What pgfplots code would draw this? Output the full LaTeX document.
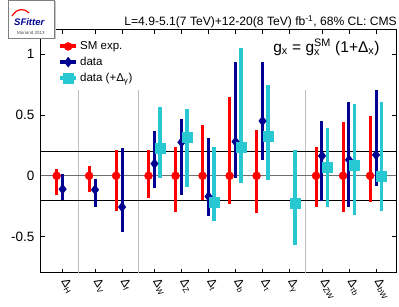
\documentclass[border=0pt]{standalone}
\usepackage{pgfplots}
\usepackage{pgfplotstable}
\pgfplotsset{compat=1.18}
\usepackage{amsmath}
\usepackage{fontspec}
\setmainfont{Liberation Sans}
\definecolor{smred}{RGB}{255,0,0}
\definecolor{datablue}{RGB}{0,0,145}
\definecolor{datacyan}{RGB}{40,200,210}
\definecolor{sepgray}{RGB}{190,190,190}
\definecolor{zerogray}{RGB}{110,110,110}

% x = category position, y = central value, ep / em = error up / down
\pgfplotstableread{
x     y      ep     em
-0.22 0      0.055  0.156
0.98  0      0.08   0.13
1.98  0      0.213  0.287
3.18  0      0.213  0.183
4.18  0      0.235  0.300
5.18  0      0.418  0.197
6.18  0      0.650  0.230
7.18  0      0.377  0.306
9.38  0      0.235  0.260
10.38 0      0.440  0.300
11.38 0      0.490  0.216
}\smexp
\pgfplotstableread{
x     y      ep     em
0     -0.110 0.126  0.087
1.2   -0.115 0.090  0.142
2.2   -0.257 0.484  0.203
3.4   0.100  0.265  0.200
4.4   0.276  0.191  0.432
5.4   -0.170 0.479  0.163
6.4   0.281  0.656  0.300
7.4   0.451  0.486  0.320
9.6   0.164  0.291  0.369
10.6  0.131  0.478  0.391
11.6  0.172  0.538  0.254
}\data
\pgfplotstableread{
x     y      ep     em
3.6   0.230  0.340  0.249
4.6   0.314  0.236  0.404
5.6   -0.219 0.459  0.155
6.6   0.232  0.823  0.292
7.6   0.330  0.416  0.363
8.6   -0.224 0.437  0.342
9.8   0.068  0.322  0.325
10.8  0.085  0.505  0.410
11.8  0.000  0.609  0.293
}\datagamma

\begin{document}
\begin{tikzpicture}
\begin{axis}[
  width=355pt, height=243pt, scale only axis,
  xmin=-0.8, xmax=12.34, ymin=-0.8, ymax=1.2,
  axis line style={line width=1pt},
  tick align=inside, major tick length=4pt,
  tick style={black, line width=0.8pt},
  xtick={0,1.2,2.2,3.4,4.4,5.4,6.4,7.4,8.4,9.6,10.6,11.6},
  xticklabels={Δ\textsubscript{H},Δ\textsubscript{V},Δ\textsubscript{f},Δ\textsubscript{W},Δ\textsubscript{Z},Δ\textsubscript{t},Δ\textsubscript{b},Δ\textsubscript{τ},Δ\textsubscript{γ},Δ\textsubscript{ZW},Δ\textsubscript{τb},Δ\textsubscript{bW}},
  xticklabel style={xshift=6pt, yshift=-3pt, rotate=-60, anchor=north west, font=\fontsize{12}{13}\selectfont, inner sep=1pt},
  ytick={-0.5,0,0.5,1}, yticklabels={-0.5,0,0.5,1},
  yticklabel style={font=\fontsize{13.5}{15}\selectfont, xshift=-3pt},
  legend style={at={(0.045,0.965)}, anchor=north west, draw=none, fill=white,
    font=\fontsize{11.5}{13}\selectfont, row sep=2pt, inner sep=1pt},
  legend cell align=left,
  legend image code/.code={
    \draw[#1, line width=4pt, mark=none] (0pt,0pt) -- (16pt,0pt);
    \draw[#1] plot coordinates {(8pt,0pt)};},
  error bars/error mark=none,
]
% reference lines
\addplot[sepgray, line width=1pt, forget plot] coordinates {(0.6,-0.8) (0.6,0.705)};
\addplot[sepgray, line width=1pt, forget plot] coordinates {(2.8,-0.8) (2.8,0.705)};
\addplot[sepgray, line width=1pt, forget plot] coordinates {(9.0,-0.8) (9.0,0.705)};
\addplot[black, line width=0.8pt, forget plot] coordinates {(-0.8,0.2) (12.34,0.2)};
\addplot[black, line width=0.8pt, forget plot] coordinates {(-0.8,-0.2) (12.34,-0.2)};
\addplot[zerogray, line width=0.8pt, forget plot] coordinates {(-0.8,0) (12.34,0)};

\addplot[smred, only marks, mark=*, mark size=4pt, mark options={fill=smred, draw=smred},
  error bars/.cd, y dir=both, y explicit, error bar style={line width=3pt, smred}]
  table[x=x, y=y, y error plus=ep, y error minus=em] {\smexp};
\addlegendentry{SM exp.}
\addplot[datablue, only marks, mark=diamond*, mark size=5pt, mark options={fill=datablue, draw=datablue},
  error bars/.cd, y dir=both, y explicit, error bar style={line width=3pt, datablue}]
  table[x=x, y=y, y error plus=ep, y error minus=em] {\data};
\addlegendentry{data}
\addplot[datacyan, only marks, mark=square*, mark size=5pt, mark options={fill=datacyan, draw=datacyan},
  error bars/.cd, y dir=both, y explicit, error bar style={line width=3.3pt, datacyan}]
  table[x=x, y=y, y error plus=ep, y error minus=em] {\datagamma};
\addlegendentry{data (+Δ\textsubscript{γ})}

\node[anchor=base, font=\fontsize{15.5}{17}\selectfont] at (rel axis cs:0.804,0.909)
  {g$_{\text{x}}$ = g$_{\text{x}}^{\text{SM}}$ (1+Δ$_{\text{x}}$)};
\coordinate (SW) at (rel axis cs:0,0);
\coordinate (NE) at (rel axis cs:1,1);
\coordinate (NW) at (rel axis cs:0,1);
\end{axis}
% title
\node[anchor=base east, inner sep=0pt, font=\fontsize{12.1}{14}\selectfont] at ([shift={(1pt,4pt)}]NE)
  {L=4.9-5.1(7 TeV)+12-20(8 TeV) fb\textsuperscript{-1}, 68\% CL: CMS};
% logo
\fill[gray!45] ([shift={(-31.5pt,-9.5pt)}]NW) rectangle ([shift={(15pt,28.5pt)}]NW);
\draw[gray, fill=white, line width=0.5pt] ([shift={(-33pt,-8pt)}]NW) rectangle ([shift={(13.5pt,30pt)}]NW);
\draw[smred, line width=1.2pt] ([shift={(-29pt,14pt)}]NW) .. controls ([shift={(-24pt,22pt)}]NW) and ([shift={(-16pt,22pt)}]NW) .. ([shift={(-12pt,17pt)}]NW);
\node[anchor=base west, inner sep=0pt, text=datablue, font=\fontsize{9.5}{10}\selectfont\bfseries\itshape] at ([shift={(-27pt,4pt)}]NW) {SFitter};
\node[anchor=base, inner sep=0pt, text=black!70, font=\fontsize{4.5}{5}\selectfont] at ([shift={(-10pt,-5pt)}]NW) {Moriond 2013};
\pgfresetboundingbox
\path[use as bounding box] ([shift={(-41pt,-34pt)}]SW) rectangle ([shift={(3pt,30pt)}]NE);
\end{tikzpicture}
\end{document}
